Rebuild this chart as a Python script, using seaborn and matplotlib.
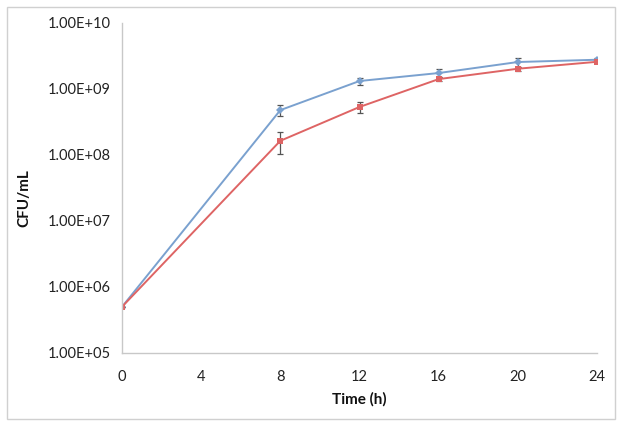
import matplotlib
matplotlib.use("Agg")
import matplotlib.pyplot as plt
import seaborn as sns
import pandas as pd
import numpy as np
from matplotlib.patches import Rectangle

time_h = [0, 8, 12, 16, 20, 24]
series_a = [5.0e5, 4.75e8, 1.31e9, 1.73e9, 2.54e9, 2.75e9]
series_a_err = [0, 0.9e8, 1.6e8, 2.4e8, 4.0e8, 1.5e8]
series_b = [5.0e5, 1.63e8, 5.3e8, 1.40e9, 2.01e9, 2.56e9]
series_b_err = [0, 0.6e8, 1.0e8, 1.0e8, 1.5e8, 1.0e8]
y_ticks = [1e5, 1e6, 1e7, 1e8, 1e9, 1e10]
y_tick_labels = ["1.00E+05", "1.00E+06", "1.00E+07", "1.00E+08", "1.00E+09", "1.00E+10"]
x_ticks = [0, 4, 8, 12, 16, 20, 24]

sns.set_style("white")
plt.rcParams['font.family'] = ['Lato', 'DejaVu Sans']

df = pd.DataFrame({
    "Time": time_h * 2,
    "CFU": series_a + series_b,
    "Series": ["A"] * len(time_h) + ["B"] * len(time_h),
})

blue = "#7aa1cf"
red = "#de6464"

fig = plt.figure(figsize=(6.24, 4.29), dpi=100)
ax = fig.add_axes([122/624, 1 - 353/429, (597-122)/624, (353-22.7)/429])

sns.lineplot(data=df, x="Time", y="CFU", hue="Series", style="Series",
             palette={"A": blue, "B": red}, markers={"A": "D", "B": "s"},
             dashes=False, markersize=4, linewidth=1.4, markeredgewidth=0,
             legend=False, ax=ax)

ax.errorbar(time_h, series_a, yerr=series_a_err, fmt="none", ecolor="#555555",
            elinewidth=0.9, capsize=2.5, capthick=0.9, zorder=1)
ax.errorbar(time_h, series_b, yerr=series_b_err, fmt="none", ecolor="#555555",
            elinewidth=0.9, capsize=2.5, capthick=0.9, zorder=1)

ax.set_yscale("log")
ax.set_ylim(1e5, 1e10)
ax.set_xlim(0, 24)
ax.set_yticks(y_ticks)
ax.set_yticklabels(y_tick_labels)
ax.yaxis.set_minor_locator(matplotlib.ticker.NullLocator())
ax.set_xticks(x_ticks)
ax.set_xticklabels([str(x) for x in x_ticks])
ax.tick_params(axis="both", length=0, labelsize=10.5, colors="#222222")
ax.tick_params(axis="y", pad=8)
ax.tick_params(axis="x", pad=12)

for s in ["top", "right"]:
    ax.spines[s].set_visible(False)
for s in ["left", "bottom"]:
    ax.spines[s].set_color("#c8c8c8")
    ax.spines[s].set_linewidth(1.0)

ax.set_xlabel("Time (h)", fontsize=11, fontweight="bold", color="#111111", labelpad=6)
ax.set_ylabel("CFU/mL", fontsize=11, fontweight="bold", color="#111111")
ax.yaxis.set_label_coords(-0.19, 0.47)

fig.patches.append(Rectangle((7/624, 1 - 419/429), (615-7)/624, (419-7)/429,
                             transform=fig.transFigure, fill=False,
                             edgecolor="#d0d0d0", linewidth=1.0))

fig.savefig("out.png", dpi=100)
